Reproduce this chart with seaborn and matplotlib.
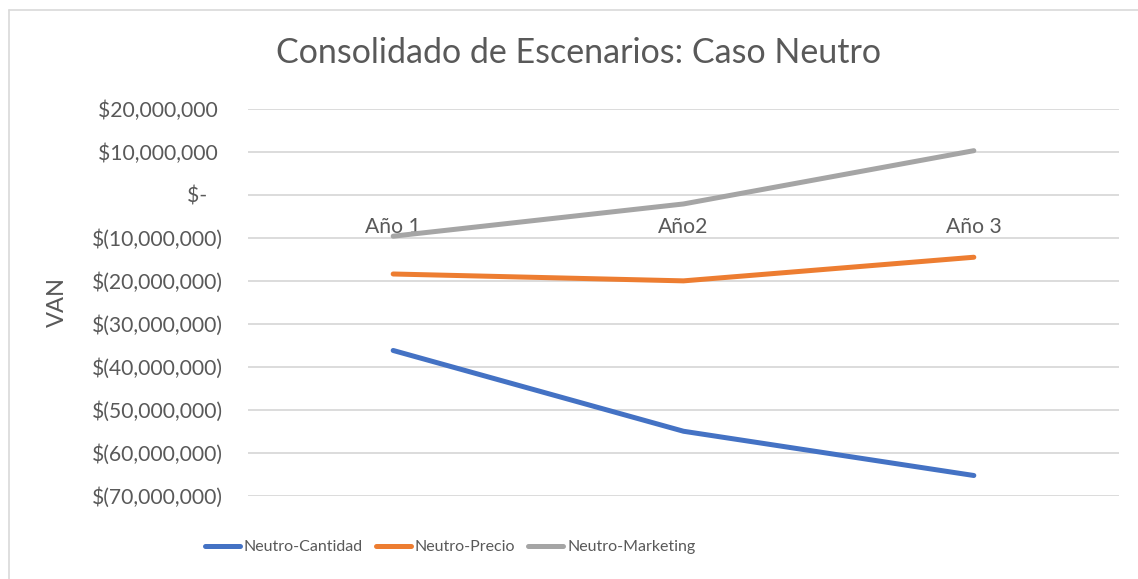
import matplotlib
matplotlib.use("Agg")
import matplotlib.pyplot as plt
import seaborn as sns
import pandas as pd
from matplotlib.lines import Line2D
from matplotlib.ticker import FuncFormatter, MultipleLocator

# ---- data ----
years = ["Año 1", "Año2", "Año 3"]
series_names = ["Neutro-Cantidad", "Neutro-Precio", "Neutro-Marketing"]
cantidad = [-36200000, -55000000, -65300000]
precio = [-18400000, -20000000, -14500000]
marketing = [-9600000, -2100000, 10300000]
colors = ["#4472C4", "#ED7D31", "#A5A5A5"]

rows = []
for name, vals in zip(series_names, [cantidad, precio, marketing]):
    for y, v in zip(years, vals):
        rows.append({"Año": y, "VAN": v, "Serie": name})
df = pd.DataFrame(rows)

sns.set_theme(style="white")
FONT = ["Lato", "DejaVu Sans"]
plt.rcParams["font.family"] = FONT
TXT = "#595959"

LEG_SIZE = 11.5

W, H = 1138, 579
fig = plt.figure(figsize=(W / 100, H / 100), dpi=100)
ax = fig.add_axes([248 / W, 1 - 495.7 / H, (1119 - 248) / W, (495.7 - 109) / H])

sns.lineplot(data=df, x="Año", y="VAN", hue="Serie", palette=colors,
             hue_order=series_names, linewidth=3.6, ax=ax, legend=False,
             sort=False)
for ln in ax.lines:
    ln.set_solid_capstyle("round")

ax.set_xlim(-0.5, 2.5)
ax.set_ylim(-70000000, 20000000)
ax.yaxis.set_major_locator(MultipleLocator(10000000))


def fmt(v, pos):
    v = round(v)
    if v == 0:
        return "$-   "
    if v < 0:
        return "$({:,})".format(-v)
    return "${:,} ".format(v)


ax.yaxis.set_major_formatter(FuncFormatter(fmt))
ax.grid(axis="y", color="#D9D9D9", linewidth=1.3)
ax.grid(axis="x", visible=False)
ax.set_axisbelow(True)
for s in ["top", "right", "left"]:
    ax.spines[s].set_visible(False)
ax.spines["bottom"].set_position(("data", 0))
ax.spines["bottom"].set_visible(False)

ax.tick_params(axis="y", length=0, pad=18, labelsize=15.2, labelcolor=TXT)
ax.tick_params(axis="x", length=0, pad=16, labelsize=15.2, labelcolor=TXT)
ax.set_xlabel("")
ax.set_ylabel("VAN", fontsize=17, color=TXT)
ax.yaxis.set_label_coords(-0.2067, 0.5)

fig.text(578 / W, 1 - 53 / H, "Consolidado de Escenarios: Caso Neutro",
         ha="center", va="center", fontsize=24.5, color=TXT)

handles = [Line2D([0], [0], color=c, linewidth=3.6, solid_capstyle="round")
           for c in colors]
F = LEG_SIZE * 100 / 72
leg = fig.legend(handles, series_names, loc="center",
                 bbox_to_anchor=(450 / W, 1 - 547 / H), ncol=3, frameon=False,
                 prop={"size": LEG_SIZE},
                 handlelength=35 / F, handletextpad=4 / F,
                 columnspacing=13 / F, labelcolor=TXT)

# chart area border (left and top visible)
fig.add_artist(Line2D([9 / W, 9 / W], [0, 1 - 10 / H], transform=fig.transFigure,
                      color="#D9D9D9", linewidth=1.2))
fig.add_artist(Line2D([9 / W, 1], [1 - 10 / H, 1 - 10 / H], transform=fig.transFigure,
                      color="#D9D9D9", linewidth=1.2))

fig.savefig("out.png", dpi=100, facecolor="white")
